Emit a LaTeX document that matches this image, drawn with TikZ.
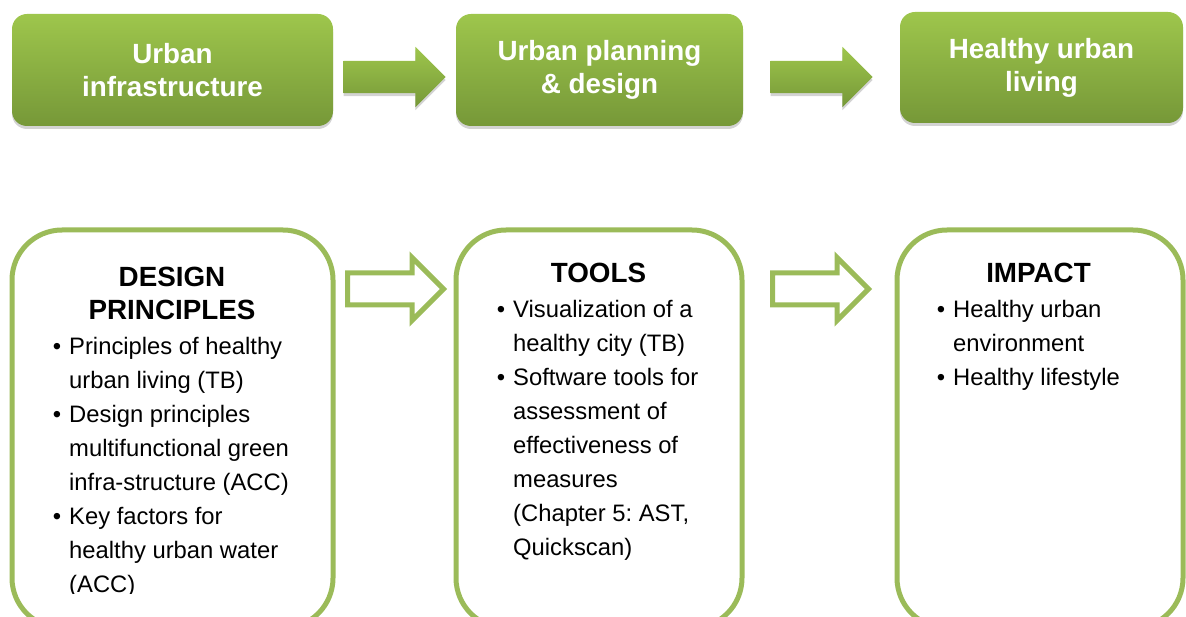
\documentclass[tikz,border=0pt]{standalone}
\usepackage{fontspec}
\setmainfont{Liberation Sans}
\usetikzlibrary{shapes.arrows,shadows,calc}
\definecolor{boxgreen}{RGB}{155,187,89}
\definecolor{topgreen}{RGB}{158,198,76}
\definecolor{lowgreen}{RGB}{118,152,56}
\newcommand{\itembul}{\llap{\textbullet\hspace{8pt}}}

\begin{document}
\begin{tikzpicture}[x=1pt,y=-1pt,
  stage/.style={shape=rectangle,rounded corners=15pt,top color=topgreen,bottom color=lowgreen,draw=none,text=white,font=\bfseries\fontsize{27.8}{33}\selectfont,align=center,inner sep=0pt,drop shadow={shadow xshift=0pt,shadow yshift=-3pt,opacity=0.35}},
  panel/.style={shape=rectangle,draw=boxgreen,line width=5pt,rounded corners=50pt,fill=white,inner sep=0pt},
  fillarrow/.style={single arrow,single arrow head extend=14pt,minimum height=102pt,inner xsep=0pt,inner ysep=16pt,xshift=-8pt,top color=topgreen,bottom color=lowgreen,draw=none,drop shadow={shadow xshift=0pt,shadow yshift=-3pt,opacity=0.35}},
  hollowarrow/.style={single arrow,single arrow head extend=15.5pt,minimum height=96pt,inner xsep=0pt,inner ysep=13.5pt,xshift=-7pt,draw=boxgreen,line width=5pt,fill=white},
  head/.style={font=\bfseries\fontsize{27.8}{33}\selectfont,inner sep=0pt},
  body/.style={font=\fontsize{23.8}{34}\selectfont,inner sep=0pt}]
\useasboundingbox (0,0) rectangle (1186,617);
\clip (0,0) rectangle (1186,617);
% top row
\node[stage,minimum width=321pt,minimum height=112pt] (s1) at (172.5,70) {Urban\\infrastructure};
\node[stage,minimum width=287pt,minimum height=112pt] (s2) at (599.5,70) {Urban planning\\\& design};
\node[stage,minimum width=283pt,minimum height=111pt] (s3) at (1041.5,67.5) {Healthy urban\\living};
\path (s1.east |- 0,77) -- node[fillarrow] (a1) {} (s2.west |- 0,77);
\path (s2.east |- 0,77) -- node[fillarrow] (a2) {} (s3.west |- 0,77);
% lower row
\node[panel,minimum width=321pt,minimum height=398pt] (c1) at (172.5,429) {};
\node[panel,minimum width=286pt,minimum height=398pt] (c2) at (599,429) {};
\node[panel,minimum width=286pt,minimum height=398pt] (c3) at (1040,429) {};
\path (c1.east |- 0,289) -- node[hollowarrow] (a3) {} (c2.west |- 0,289);
\path (c2.east |- 0,289) -- node[hollowarrow] (a4) {} (c3.west |- 0,289);
\node[head,anchor=base] (t1) at (172,287) {\begin{tabular}[t]{@{}c@{}}DESIGN\\PRINCIPLES\end{tabular}};
\node[head,anchor=base] (t2) at (598.5,283) {TOOLS};
\node[head,anchor=base] (t3) at (1038.5,283) {IMPACT};
\begin{scope}
\clip (0,0) rectangle (1186,593);
\node[body,anchor=base west] (p1) at (69,355) {\begin{tabular}[t]{@{}l@{}}
\itembul Principles of healthy\\
urban living (TB)\\
\itembul Design principles\\
multifunctional green\\
infra-structure (ACC)\\
\itembul Key factors for\\
healthy urban water\\
(ACC)\end{tabular}};
\end{scope}
\node[body,anchor=base west] (p2) at (513,318) {\begin{tabular}[t]{@{}l@{}}
\itembul Visualization of a\\
healthy city (TB)\\
\itembul Software tools for\\
assessment of\\
effectiveness of\\
measures\\
(Chapter 5:\ AST,\\
Quickscan)\end{tabular}};
\node[body,anchor=base west] (p3) at (953,318) {\begin{tabular}[t]{@{}l@{}}
\itembul Healthy urban\\
environment\\
\itembul Healthy lifestyle\end{tabular}};
\end{tikzpicture}
\end{document}
